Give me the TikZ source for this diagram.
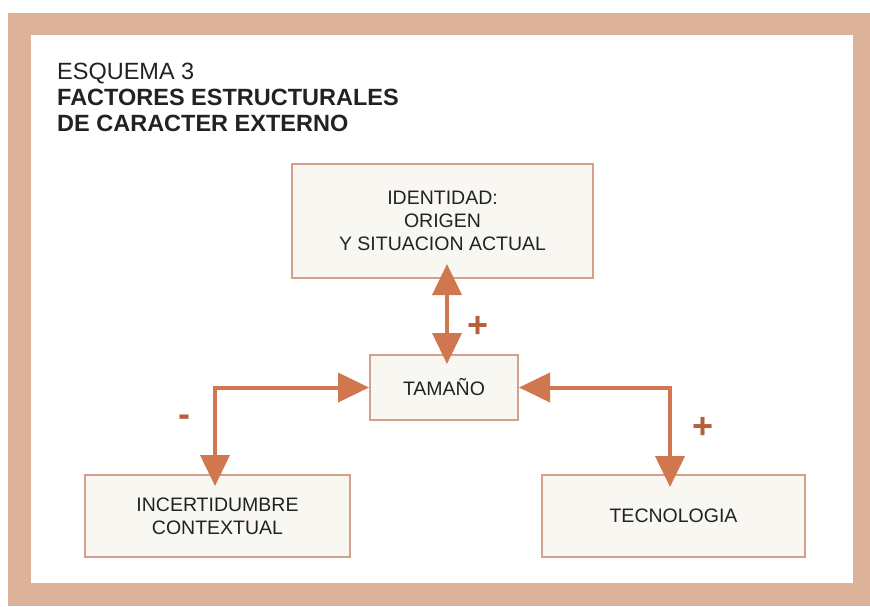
\documentclass[tikz,border=0pt]{standalone}
\usepackage{fontspec}
\setmainfont{Liberation Sans}
\usetikzlibrary{arrows.meta}
\definecolor{band}{HTML}{DDB29B}
\definecolor{arrowc}{HTML}{D0774F}
\definecolor{boxline}{HTML}{D3A08C}
\definecolor{boxfill}{HTML}{F9F7F2}
\definecolor{signc}{HTML}{B5603D}
\definecolor{txt}{HTML}{222222}
\begin{document}
\begin{tikzpicture}[x=1pt,y=-1pt,
  box/.style={draw=boxline, line width=2pt, fill=boxfill, align=center, text=txt,
    font=\fontsize{19.5}{23}\selectfont, inner sep=0pt},
  conn/.style={draw=arrowc, line width=4pt,
    {Triangle[length=31pt,width=29pt]}-{Triangle[length=31pt,width=29pt]}},
  sign/.style={text=signc, font=\bfseries\fontsize{36}{36}\selectfont, inner sep=0pt},
  title/.style={anchor=base west, inner sep=0pt, text=txt, font=\fontsize{23.5}{26}\selectfont}]
\useasboundingbox (0,0) rectangle (870,606);
\fill[white] (0,0) rectangle (870,606);
\fill[band] (8,13) rectangle (870,606);
\fill[white] (31,35) rectangle (853,583);

\node[title] (t1) at (57,79) {ESQUEMA 3};
\node[title, font=\bfseries\fontsize{23.5}{26}\selectfont] (t2) at (57,105) {FACTORES ESTRUCTURALES};
\node[title, font=\bfseries\fontsize{23.5}{26}\selectfont] (t3) at (57,131) {DE CARACTER EXTERNO};

\node[box, minimum width=301pt, minimum height=114pt] (ident) at (442.5,221) {IDENTIDAD:\\ORIGEN\\Y SITUACION ACTUAL};
\node[box, minimum width=148pt, minimum height=65pt] (tam) at (444,387.5) {TAMAÑO};
\node[box, minimum width=265pt, minimum height=82pt] (inc) at (217.5,516) {INCERTIDUMBRE\\CONTEXTUAL};
\node[box, minimum width=263pt, minimum height=82pt] (tec) at (673.5,516) {TECNOLOGIA};

\draw[conn] ([shift={(4.5,-15)}]ident.south) -- ([shift={(3,10)}]tam.north);
\draw[conn] ([shift={(-2.5,12)}]inc.north) |- (tam.west);
\draw[conn] ([shift={(-3.5,13)}]tec.north) |- (tam.east);

\node[sign] (p1) at (478,327) {+};
\node[sign] (m1) at (184,421) {-};
\node[sign] (p2) at (703,428) {+};
\end{tikzpicture}
\end{document}
